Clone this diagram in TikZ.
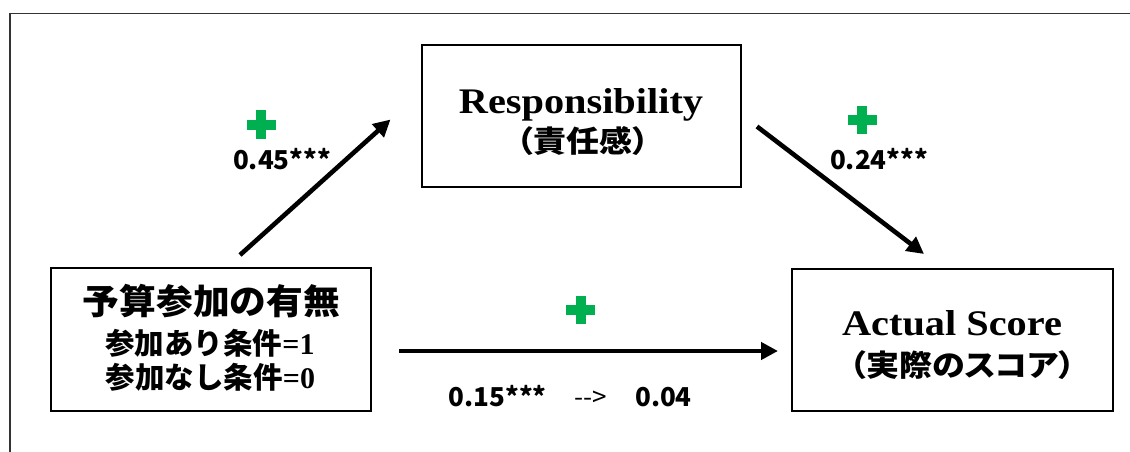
\documentclass[tikz,border=0pt]{standalone}
\usepackage{fontspec}
\usetikzlibrary{arrows.meta}
\setmainfont{Liberation Serif}
\newfontfamily\tnr{Liberation Serif}[FakeStretch=1.12]
\newfontfamily\jpsub{Noto Sans CJK JP}[FakeStretch=1.1,RawFeature=+palt]
\newfontfamily\jpleft{Noto Sans CJK JP}[FakeStretch=1.05]
\newfontfamily\jplab{Noto Sans CJK JP}
\definecolor{plusgreen}{HTML}{00B050}
\begin{document}
\begin{tikzpicture}[x=1pt,y=-1pt,
  box/.style={draw=black, line width=1.8pt, minimum width=#1, inner sep=0pt, fill=white},
  txt/.style={anchor=base, inner sep=0pt},
  path arrow/.style={line width=4.6pt, -{Triangle[length=17pt,width=17pt]}},
  frameline/.style={line width=1.4pt, draw=black!80},
  lab/.style={anchor=base, inner sep=0pt, font=\jplab\bfseries\fontsize{26}{30}\selectfont},
  plussign/.pic={\fill[plusgreen] (-14.5,-5) rectangle (14.5,5);
                 \fill[plusgreen] (-5,-14.2) rectangle (5,14.2);}
]
\useasboundingbox (0,0) rectangle (1130,452);
\fill[white] (0,0) rectangle (1130,452);
\draw[frameline] (10,452) -- (10,13.5) -- (1130,13.5);

% boxes
\node[box=319pt, minimum height=142pt] (resp) at (581.5,116) {};
\node[box=320pt, minimum height=143pt] (budget) at (211,339.5) {};
\node[box=321pt, minimum height=142pt] (actual) at (952.5,340) {};

% box texts
\node[txt, font=\tnr\bfseries\fontsize{36}{40}\selectfont] (respA) at (581,113.3) {Responsibility};
\node[txt, font=\jpsub\bfseries\fontsize{30}{34}\selectfont] (respB) at (583,152.5) {（責任感）};
\node[txt, font=\jpleft\bfseries\fontsize{35}{40}\selectfont] (budA) at (211.5,314) {予算参加の有無};
\node[txt, font=\jplab\bfseries\fontsize{29.5}{34}\selectfont] (budB) at (210,354) {参加あり条件{\rmfamily\bfseries\fontsize{30}{34}\selectfont =1}};
\node[txt, font=\jplab\bfseries\fontsize{29.5}{34}\selectfont] (budC) at (210.5,388.5) {参加なし条件{\rmfamily\bfseries\fontsize{30}{34}\selectfont =0}};
\node[txt, font=\tnr\bfseries\fontsize{36}{40}\selectfont] (actA) at (952,335) {Actual Score};
\node[txt, font=\jpsub\bfseries\fontsize{30}{34}\selectfont] (actB) at (962.5,376) {（実際のスコア）};

% arrows
\coordinate (a1s) at (240,255);
\coordinate (a1e) at (390.5,119.5);
\coordinate (a2s) at (757,126.5);
\coordinate (a2e) at (924,254);
\coordinate (a3s) at (399,351);
\coordinate (a3e) at (778,351);
\draw[path arrow] (a1s) -- (a1e);
\draw[path arrow] (a2s) -- (a2e);
\draw[path arrow] (a3s) -- (a3e);

% plus signs
\pic at (261,124.5) {plussign};
\pic at (862,120) {plussign};
\pic at (580.5,309.7) {plussign};

% labels
\node[lab] (l1) at (282,169) {0.45***};
\node[lab] (l2) at (879,169) {0.24***};
\node[lab] (l3) at (570.3,406) {0.15***\hspace{28pt}{\mdseries -{}-{}>}\hspace{28pt}0.04};
\end{tikzpicture}
\end{document}
